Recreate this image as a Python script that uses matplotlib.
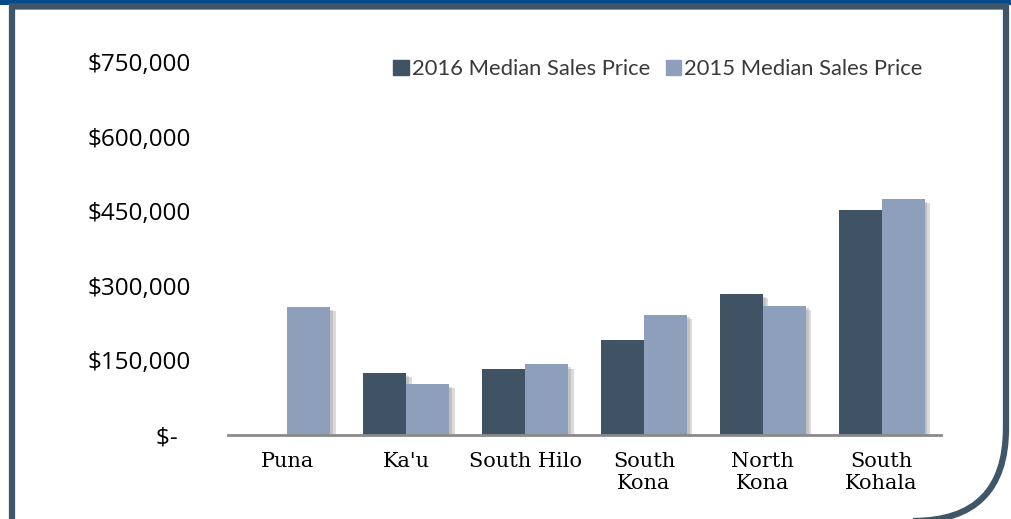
import matplotlib
matplotlib.use("Agg")
import matplotlib.pyplot as plt
import matplotlib.patheffects as pe
from matplotlib.path import Path
from matplotlib.patches import PathPatch, Rectangle, Patch
import numpy as np

regions = ["Puna", "Ka'u", "South Hilo", "South\nKona", "North\nKona", "South\nKohala"]
price_2016 = [0, 124000, 132000, 191000, 283000, 453000]
price_2015 = [257000, 102000, 142000, 242000, 260000, 474000]
yticks = [0, 150000, 300000, 450000, 600000, 750000]
ytick_labels = ["$-  ", "$150,000", "$300,000", "$450,000", "$600,000", "$750,000"]
series_names = ["2016 Median Sales Price", "2015 Median Sales Price"]

dark = "#405364"
light = "#8d9fba"
frame = "#3f5568"

W, H = 1011, 519
fig = plt.figure(figsize=(W / 100, H / 100), dpi=100)
fig.patch.set_facecolor("white")

# frame drawn in pixel coords on an overlay axes
bg = fig.add_axes([0, 0, 1, 1], zorder=0)
bg.set_xlim(0, W)
bg.set_ylim(H, 0)
bg.axis("off")
bg.add_patch(Rectangle((0, 0), W, 4.5, color="#074a8c", lw=0))
verts = [(12, 530), (12, 6.5), (1006, 6.5), (1006, 428),
         (1006, 521), (913, 521), (860, 521)]
codes = [Path.MOVETO, Path.LINETO, Path.LINETO, Path.LINETO,
         Path.CURVE3, Path.CURVE3, Path.LINETO]
bg.add_patch(PathPatch(Path(verts, codes), fill=False, edgecolor=frame,
                       lw=4.5, capstyle="butt", joinstyle="miter"))

ax = fig.add_axes([228 / W, 1 - 435 / H, (941 - 228) / W, (435 - 62) / H], zorder=1)
ax.patch.set_alpha(0)

x = np.arange(len(regions))
w = 0.362
shadow = [pe.SimplePatchShadow(offset=(4, -3), shadow_rgbFace="#888888", alpha=0.3),
          pe.SimplePatchShadow(offset=(2, -2), shadow_rgbFace="#888888", alpha=0.3),
          pe.Normal()]
b1 = ax.bar(x - w / 2, price_2016, w, color=dark)
b2 = ax.bar(x + w / 2, price_2015, w, color=light)
for b in list(b1) + list(b2):
    if b.get_height() > 0:
        b.set_path_effects(shadow)

ax.set_xlim(-0.5, len(regions) - 0.5)
ax.set_ylim(0, 750000)
ax.set_yticks(yticks)
ax.set_yticklabels(ytick_labels, fontsize=17.5, family="Open Sans")
ax.set_xticks(x)
ax.set_xticklabels(regions, fontsize=15, family="DejaVu Serif", linespacing=1.2)
ax.tick_params(axis="y", length=0, pad=27)
ax.tick_params(axis="x", length=0, pad=12)
for s in ["top", "right", "left"]:
    ax.spines[s].set_visible(False)
ax.spines["bottom"].set_color("#8a8a8a")
ax.spines["bottom"].set_linewidth(2)

handles = [Patch(color=dark), Patch(color=light)]
leg = fig.legend(handles=handles, labels=series_names, loc="center",
                 bbox_to_anchor=(658 / W, 1 - 69 / H),
                 ncol=2, frameon=False, handlelength=0.7, handleheight=0.7,
                 handletextpad=0.15, columnspacing=0.7,
                 prop={"family": "Lato", "size": 15.8})
for t in leg.get_texts():
    t.set_color("#3a3a3a")

fig.savefig("out.png", dpi=100, facecolor="white")
